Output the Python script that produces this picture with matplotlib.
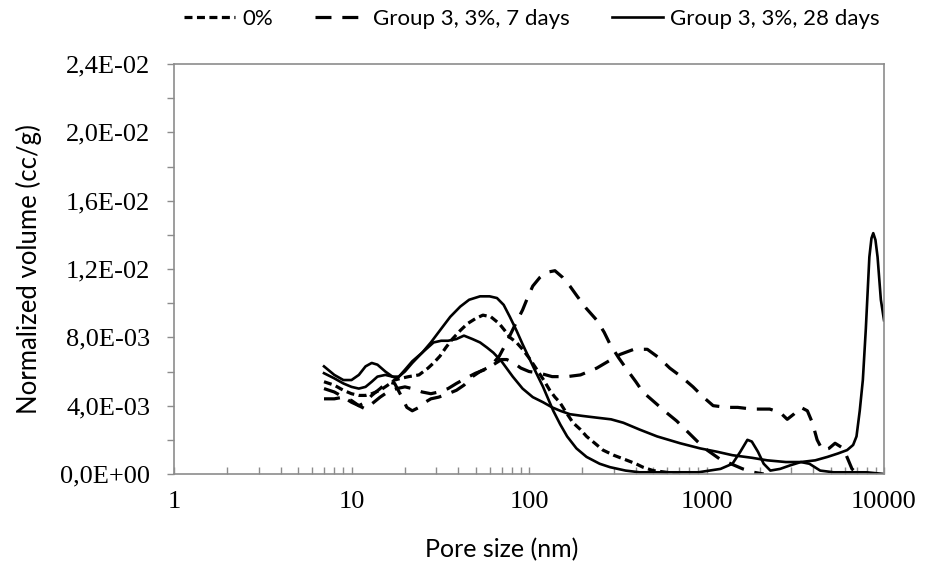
import numpy as np
import matplotlib
matplotlib.use("Agg")
import matplotlib.pyplot as plt
from matplotlib.lines import Line2D
from matplotlib import font_manager
from matplotlib.ticker import MultipleLocator, FuncFormatter, LogLocator, FixedLocator

names = {f.name for f in font_manager.fontManager.ttflist}
SANS = "Liberation Sans Narrow" if "Liberation Sans Narrow" in names else "Lato"
SERIF = "Liberation Serif"

# ---------------- data (pore size in nm, normalized volume in cc/g) ----------------
legend_labels = ["0%", "Group 3, 3%, 7 days", "Group 3, 3%, 28 days"]

# 0% reference (short dashes)
x_ref = [7, 8, 9, 10, 11, 12, 13, 14.5, 16, 17.5, 19, 21, 24, 27, 29, 31.5, 34, 37, 41, 45,
         50, 55, 61, 68, 73, 78, 85, 92, 100, 111, 121, 131, 140, 149, 162, 177, 195, 211,
         235, 261, 300, 357, 400, 438, 500, 594, 700]
y_ref = [0.0054, 0.0052, 0.0049, 0.0047, 0.0046, 0.0046, 0.0047, 0.0049, 0.0052, 0.0055,
         0.0056, 0.0057, 0.0058, 0.0062, 0.0065, 0.0069, 0.0074, 0.0079, 0.0084, 0.0088,
         0.0091, 0.0093, 0.0092, 0.0088, 0.0084, 0.0080, 0.0077, 0.0073, 0.0068, 0.0061,
         0.0055, 0.0049, 0.0045, 0.0042, 0.0036, 0.0030, 0.0026, 0.0022, 0.0018, 0.0014,
         0.0011, 0.0008, 0.0006, 0.0004, 0.0002, 0.0001, 0.0]

# 7 days, sample A (long dashes, main peak ~140 nm)
x_7a = [7, 8, 9, 10, 11, 12, 13, 14.5, 16, 17.5, 19, 20.5, 22, 24, 26, 28, 31, 35, 39, 43,
        48, 53, 58, 63, 68, 73, 78, 85, 92, 98, 105, 115, 125, 140, 155, 170, 187, 210,
        241, 265, 286, 320, 357, 400, 438, 510, 594, 680, 778, 890, 1008, 1180, 1370,
        1600, 1850, 2100]
y_7a = [0.0050, 0.0048, 0.0045, 0.0042, 0.0040, 0.0042, 0.0046, 0.0050, 0.0054, 0.0053,
        0.0046, 0.0039, 0.0037, 0.0039, 0.0042, 0.0044, 0.0045, 0.0047, 0.0049, 0.0052,
        0.0057, 0.0060, 0.0062, 0.0065, 0.0069, 0.0075, 0.0081, 0.0089, 0.0096, 0.0103,
        0.0110, 0.0115, 0.0118, 0.0119, 0.0115, 0.0110, 0.0104, 0.0097, 0.0090, 0.0083,
        0.0076, 0.0068, 0.0061, 0.0054, 0.0048, 0.0042, 0.0036, 0.0031, 0.0025, 0.0019,
        0.0014, 0.0009, 0.0006, 0.0003, 0.0001, 0.0]

# 7 days, sample B (long dashes, plateau up to ~6000 nm)
x_7b = [7, 8, 9, 10, 11, 12, 13, 14.5, 16, 18, 20, 22, 25, 28, 31, 35, 39, 44, 50, 56, 63,
        70, 75, 82, 90, 100, 115, 135, 164, 195, 241, 280, 326, 390, 464, 540, 621, 720,
        840, 960, 1090, 1300, 1500, 1800, 2270, 2600, 2850, 3100, 3400, 3700, 3950, 4200,
        4500, 4900, 5300, 5900, 6300, 6600, 7100]
y_7b = [0.0044, 0.0044, 0.0045, 0.0043, 0.0040, 0.0038, 0.0041, 0.0045, 0.0048, 0.0050,
        0.0051, 0.0050, 0.0048, 0.0047, 0.0048, 0.0050, 0.0053, 0.0056, 0.0059, 0.0061,
        0.0064, 0.0067, 0.0067, 0.0065, 0.0062, 0.0060, 0.0059, 0.0057, 0.0057, 0.0058,
        0.0062, 0.0066, 0.0070, 0.0073, 0.0073, 0.0068, 0.0062, 0.0057, 0.0051, 0.0045,
        0.0040, 0.0039, 0.0039, 0.0038, 0.0038, 0.0036, 0.0032, 0.0035, 0.0039, 0.0037,
        0.0030, 0.0020, 0.0014, 0.0015, 0.0018, 0.0015, 0.0008, 0.0003, 0.0]

# 28 days, sample A (solid, peak ~55 nm, small peak ~1750 nm)
x_28a = [7, 8, 9, 10, 11, 12, 13, 14, 15.5, 17, 18, 20, 22, 25, 28, 32, 36, 41, 46, 53, 60,
         66, 72, 78, 85, 92, 100, 110, 120, 137, 150, 164, 185, 211, 250, 286, 350, 420,
         600, 900, 1200, 1400, 1550, 1700, 1800, 1950, 2100, 2290, 2600, 2950, 3400, 3800,
         4370, 5200, 6400, 8000, 10000]
y_28a = [0.0063, 0.0058, 0.0055, 0.0055, 0.0058, 0.0063, 0.0065, 0.0064, 0.0060, 0.0057,
         0.0056, 0.0060, 0.0065, 0.0071, 0.0077, 0.0085, 0.0092, 0.0098, 0.0102, 0.0104,
         0.0104, 0.0103, 0.0099, 0.0092, 0.0084, 0.0076, 0.0068, 0.0059, 0.0051, 0.0037,
         0.0029, 0.0022, 0.0015, 0.0010, 0.0006, 0.0004, 0.0002, 0.0001, 0.0001, 0.0001,
         0.0003, 0.0006, 0.0013, 0.0020, 0.0019, 0.0013, 0.0006, 0.0002, 0.0003, 0.0005,
         0.0007, 0.0006, 0.0002, 0.0001, 0.0001, 0.0001, 0.0]

# 28 days, sample B (solid, peak ~42 nm, long tail, sharp peak ~8700 nm)
x_28b = [7, 8, 9, 10, 11, 12, 13, 14, 15.5, 17, 18.5, 20, 22, 25, 29, 32, 35, 39, 43, 48,
         53, 58, 63, 70, 81, 92, 105, 120, 135, 150, 170, 200, 240, 290, 340, 420, 527, 710,
         920, 1150, 1400, 1800, 2200, 2800, 3400, 4100, 4800, 5500, 6200, 6700, 7000, 7300,
         7600, 7900, 8270, 8500, 8700, 8950, 9200, 9600, 10000]
y_28b = [0.0059, 0.0056, 0.0053, 0.0051, 0.0050, 0.0051, 0.0054, 0.0057, 0.0058, 0.0057,
         0.0057, 0.0061, 0.0066, 0.0071, 0.0077, 0.0078, 0.0078, 0.0079, 0.0081, 0.0079,
         0.0077, 0.0074, 0.0071, 0.0066, 0.0057, 0.0050, 0.0045, 0.0042, 0.0039, 0.0037,
         0.0035, 0.0034, 0.0033, 0.0032, 0.0030, 0.0026, 0.0022, 0.0018, 0.0015, 0.0013,
         0.0011, 0.00095, 0.0008, 0.0007, 0.0007, 0.0008, 0.0010, 0.0012, 0.0014, 0.0017,
         0.0022, 0.0037, 0.0055, 0.0085, 0.0127, 0.0138, 0.0141, 0.0137, 0.0127, 0.0102,
         0.0090]

x_ticks = [1, 10, 100, 1000, 10000]
y_ticks = [0.0, 0.004, 0.008, 0.012, 0.016, 0.020, 0.024]

# ---------------- figure ----------------
W, H = 933, 566
fig = plt.figure(figsize=(W / 100, H / 100), dpi=100)
ax = fig.add_axes([174 / W, 1 - 474 / H, 710 / W, 410 / H])

LW = 2.3
SHORT = (2.5, 1.4)
LONG = (5.0, 3.4)
ax.plot(x_ref, y_ref, color="black", lw=LW, dashes=SHORT)
ax.plot(x_7a, y_7a, color="black", lw=LW, dashes=LONG)
ax.plot(x_7b, y_7b, color="black", lw=LW, dashes=LONG)
ax.plot(x_28a, y_28a, color="black", lw=1.9)
ax.plot(x_28b, y_28b, color="black", lw=1.9)

ax.set_xscale("log")
ax.set_xlim(1, 10000)
ax.set_ylim(0, 0.024)

ax.xaxis.set_major_locator(FixedLocator(x_ticks))
ax.xaxis.set_minor_locator(LogLocator(base=10, subs=np.arange(2, 10)))
ax.xaxis.set_major_formatter(FuncFormatter(lambda v, p: f"{v:g}"))
ax.set_yticks(y_ticks)
ax.yaxis.set_minor_locator(MultipleLocator(0.002))
ax.yaxis.set_major_formatter(FuncFormatter(lambda v, p: f"{v:.1E}".replace(".", ",")))

spine_c = "#8c8c8c"
for s in ax.spines.values():
    s.set_color(spine_c)
    s.set_linewidth(1.2)
ax.tick_params(axis="y", which="both", direction="out", length=5, width=1, color=spine_c,
               pad=12)
ax.tick_params(axis="x", which="both", direction="in", length=5, width=1, color=spine_c,
               pad=12)
for lab in ax.get_xticklabels() + ax.get_yticklabels():
    lab.set_fontfamily(SERIF)
    lab.set_fontsize(19)

ax.set_xlabel("Pore size (nm)", family=SANS, fontsize=18)
ax.xaxis.set_label_coords((502 - 174) / 710, -0.155)
ax.set_ylabel("Normalized volume (cc/g)", family=SANS, fontsize=18.5, labelpad=13)

handles = [Line2D([], [], color="black", lw=LW, dashes=SHORT),
           Line2D([], [], color="black", lw=LW, dashes=LONG),
           Line2D([], [], color="black", lw=1.9)]
fig.legend(handles, legend_labels, loc="upper center", bbox_to_anchor=(0.57, 1.02), ncol=3,
           frameon=False, prop={"family": SANS, "size": 16}, handlelength=2.3,
           handletextpad=0.3, columnspacing=1.9)

fig.savefig("out.png", dpi=100)
